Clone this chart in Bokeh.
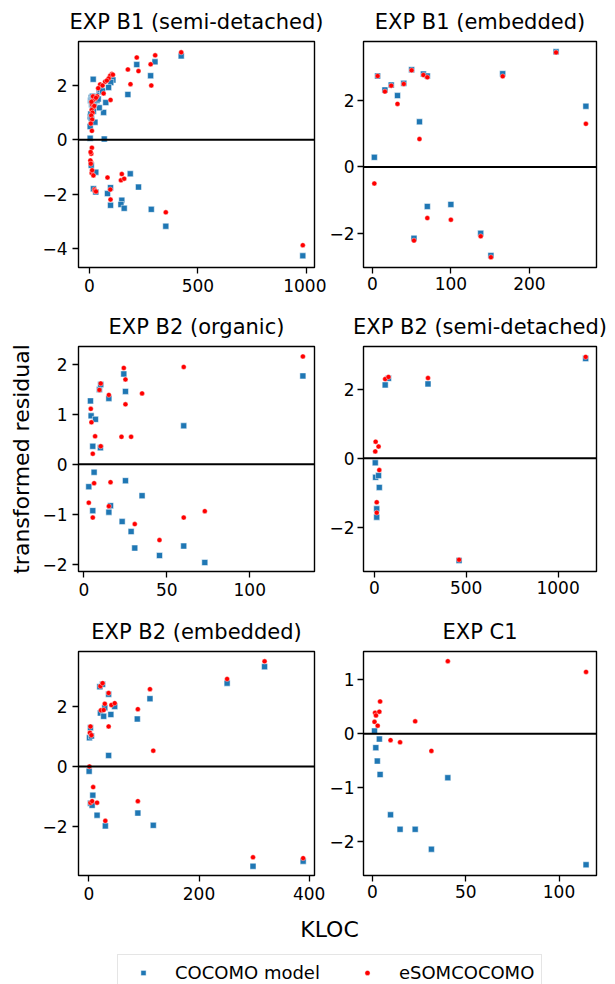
from bokeh.plotting import figure
from bokeh.layouts import column, row
from bokeh.models import Range1d, FixedTicker, Span, Label, Legend, LegendItem
from bokeh.embed import file_html
from bokeh.resources import INLINE

FONT = "DejaVu Sans"
BLUE = "#1f77b4"
RED = "#ff0000"

# ---------------- data ----------------
titles = ["EXP B1 (semi-detached)", "EXP B1 (embedded)", "EXP B2 (organic)",
          "EXP B2 (semi-detached)", "EXP B2 (embedded)", "EXP C1"]

# EXP B1 (semi-detached)
b1s_kloc_cocomo = [423, 302, 218, 282, 177, 17, 108, 98, 88, 45, 75, 65, 45, 11, 3, 3, 3, 68,
                   5, 8, 12, 15, 20, 25, 10, 14, 18, 6, 10, 22, 30, 35, 25, 8, 50, 60, 40,
                   8, 29, 188, 226, 18, 29, 97, 83, 97, 149, 145, 160, 285, 352, 984]
b1s_res_cocomo = [3.09, 2.87, 2.77, 2.36, 1.67, 2.23, 2.20, 2.11, 1.93, 1.77, 1.37, 1.01, 1.18, 1.59,
                  0.85, 0.49, 0.06, 0.03, 1.45, 1.55, 1.50, 1.60, 1.55, 1.45, 1.30, 1.20, 1.05, 0.95,
                  0.75, 1.35, 1.50, 1.45, 0.65, 0.80, 1.85, 1.80, 1.50,
                  -0.94, -1.19, -1.25, -1.74, -1.80, -1.92, -1.76, -1.98, -2.41, -2.22, -2.38,
                  -2.52, -2.56, -3.18, -4.27]
b1s_kloc_esom = [423, 303, 218, 282, 177, 226, 285, 189, 103, 95, 108, 88, 72, 49, 65, 97, 60, 80,
                 40, 35, 20, 25, 15, 12, 18, 10, 14, 8, 12, 6, 11, 16, 30, 22, 9,
                 11, 8, 5, 7, 4, 6, 10, 12, 18, 83, 149, 145, 160, 23, 25, 30, 96, 97, 352, 984]
b1s_res_esom = [3.22, 3.11, 3.03, 2.78, 2.59, 2.53, 2.00, 2.05, 2.42, 2.36, 2.40, 2.26, 2.14, 2.04,
                1.71, 1.47, 2.00, 2.18, 1.90, 1.60, 1.55, 1.50, 1.45, 1.30, 1.20, 1.10, 1.00, 0.90,
                0.75, 0.60, 0.33, 1.60, 1.55, 1.25, 1.40,
                -0.29, -0.51, -0.45, -0.82, -0.76, -0.88, -1.22, -1.12, -1.31, -1.39, -1.26, -1.49,
                -1.43, -1.83, -1.88, -1.90, -1.83, -2.20, -2.67, -3.88]

# EXP B1 (embedded)
b1e_kloc = [2.5, 6.7, 16, 24, 32, 40, 50, 60, 65, 70, 166, 234, 272, 53, 70, 100, 138, 151]
b1e_res_cocomo = [0.29, 2.74, 2.32, 2.47, 2.15, 2.52, 2.93, 1.36, 2.80, 2.74, 2.81, 3.47, 1.83,
                  -2.15, -1.19, -1.13, -2.00, -2.67]
b1e_res_esom = [-0.50, 2.74, 2.27, 2.45, 1.90, 2.50, 2.91, 0.84, 2.77, 2.70, 2.73, 3.45, 1.30,
                -2.22, -1.54, -1.59, -2.09, -2.72]

# EXP B2 (organic)
b2o_kloc_cocomo = [4.0, 4.4, 7.0, 5.4, 10.0, 9.4, 10.2, 15.1, 24.1, 25.1, 60.2, 132, 6.2, 3.0,
                   5.4, 15.1, 16.1, 25.1, 35.1, 23.1, 28.5, 30.7, 45.6, 60.2, 72.9]
b2o_res_cocomo = [1.27, 0.97, 0.90, 0.36, 0.33, 1.50, 1.60, 1.32, 1.81, 1.46, 0.77, 1.77, -0.16,
                  -0.45, -0.93, -0.96, -0.83, -0.33, -0.63, -1.15, -1.35, -1.68, -1.83, -1.64, -1.97]
b2o_kloc_esom = [4.2, 4.6, 6.8, 5.4, 10.2, 9.4, 10.2, 15.1, 24.1, 25.1, 25.1, 35.1, 60.2, 22.7,
                 28.5, 132, 6.2, 3.0, 5.4, 15.1, 16.1, 30.7, 45.6, 60.2, 72.9]
b2o_res_esom = [1.11, 0.84, 0.56, 0.21, 0.36, 1.49, 1.62, 1.39, 1.93, 1.70, 1.20, 1.42, 1.95, 0.55,
                0.55, 2.16, -0.38, -0.77, -1.07, -0.84, -0.36, -1.20, -1.52, -1.07, -0.94]

# EXP B2 (semi-detached)
b2s_kloc = [5, 7, 23, 27, 13, 13, 59, 77, 292, 461, 1150]
b2s_res_cocomo = [-0.13, -0.55, -0.50, -0.84, -1.46, -1.70, 2.12, 2.31, 2.15, -2.95, 2.88]
b2s_res_esom = [0.20, 0.48, 0.34, -0.34, -1.27, -1.57, 2.29, 2.35, 2.32, -2.93, 2.93]

# EXP B2 (embedded)
b2e_kloc_cocomo = [1.2, 3, 4.8, 0.6, 3, 6, 7.3, 15, 30, 20, 25, 21, 27, 29, 36, 40, 47, 36, 88,
                   89, 111, 117, 251, 319, 298, 389]
b2e_res_cocomo = [0.96, 1.30, 1.02, -0.16, -1.23, -1.30, -0.96, -1.63, -1.99, 2.67, 2.75, 1.79,
                  1.68, 1.97, 2.42, 1.74, 2.01, 0.37, 1.59, -1.56, 2.27, -1.97, 2.79, 3.34,
                  -3.34, -3.17]
b2e_kloc_esom = [1.2, 3, 2, 4.8, 3, 6, 7.9, 15, 30, 21, 25, 22, 27, 29, 36, 36, 41, 47, 89, 89,
                 111, 117, 251, 319, 298, 389]
b2e_res_esom = [0.00, 1.34, 1.13, 1.05, -1.21, -1.16, -0.69, -1.21, -1.82, 2.69, 2.79, 1.88,
                1.89, 2.10, 2.46, 1.34, 2.06, 2.12, 1.92, -1.16, 2.59, 0.53, 2.93, 3.52,
                -3.04, -3.07]

# EXP C1
c1_kloc_cocomo = [1.1, 1.8, 2.6, 3.7, 4.1, 9.7, 14.8, 22.9, 31.6, 40.4, 114.5]
c1_res_cocomo = [0.05, -0.26, -0.51, -0.10, -0.76, -1.51, -1.78, -1.78, -2.15, -0.82, -2.44]
c1_kloc_esom = [1.4, 1.9, 1.1, 2.8, 3.7, 4.1, 9.7, 14.8, 22.9, 31.6, 40.4, 114.5]
c1_res_esom = [0.39, 0.34, 0.22, 0.15, 0.41, 0.60, -0.12, -0.16, 0.23, -0.32, 1.35, 1.15]

# axis ticks and ranges
xticks = [[0, 500, 1000], [0, 100, 200], [0, 50, 100], [0, 500, 1000], [0, 200, 400], [0, 50, 100]]
yticks = [[-4, -2, 0, 2], [-2, 0, 2], [-2, -1, 0, 1, 2], [-2, 0, 2], [-2, 0, 2], [-2, -1, 0, 1]]
xranges = [(-50.8, 1038), (-11.3, 285.5), (-3.2, 139), (-59, 1209), (-18.7, 409.6), (-4.8, 120.1)]
yranges = [(-4.70, 3.62), (-3.03, 3.78), (-2.15, 2.36), (-3.27, 3.23), (-3.65, 3.85), (-2.64, 1.53)]

series = [
    (b1s_kloc_cocomo, b1s_res_cocomo, b1s_kloc_esom, b1s_res_esom),
    (b1e_kloc, b1e_res_cocomo, b1e_kloc, b1e_res_esom),
    (b2o_kloc_cocomo, b2o_res_cocomo, b2o_kloc_esom, b2o_res_esom),
    (b2s_kloc, b2s_res_cocomo, b2s_kloc, b2s_res_esom),
    (b2e_kloc_cocomo, b2e_res_cocomo, b2e_kloc_esom, b2e_res_esom),
    (c1_kloc_cocomo, c1_res_cocomo, c1_kloc_esom, c1_res_esom),
]
legend_labels = ["COCOMO model", "eSOMCOCOMO"]


def fmt(t):
    return ("\u2212" + str(abs(t))) if t < 0 else str(t)


# layout: borders around fixed-size frames
FRAME_W = 236
col_b = [(78, 12), (34, 19)]
row_b = [(41, 33, 226), (46, 39, 225), (40, 35, 225)]


def make_panel(i):
    r, c = divmod(i, 2)
    bl, br = col_b[c]
    bt, bb, fh = row_b[r]
    p = figure(width=bl + FRAME_W + br, height=bt + fh + bb,
               x_range=Range1d(*xranges[i]), y_range=Range1d(*yranges[i]),
               output_backend="svg", toolbar_location=None,
               min_border_left=bl, min_border_right=br, min_border_top=bt, min_border_bottom=bb,
               title=titles[i])
    p.title.text_font = FONT
    p.title.text_font_size = "21px"
    p.title.text_font_style = "normal"
    p.title.text_color = "black"
    p.title.align = "center"
    p.title.standoff = 15
    p.outline_line_color = "black"
    p.outline_line_width = 1.4
    p.xgrid.visible = False
    p.ygrid.visible = False
    p.background_fill_color = "white"
    p.border_fill_color = "white"
    for ax, ticks in ((p.xaxis[0], xticks[i]), (p.yaxis[0], yticks[i])):
        ax.ticker = FixedTicker(ticks=ticks)
        ax.major_label_overrides = {t: fmt(t) for t in ticks}
        ax.major_label_text_font = FONT
        ax.major_label_text_font_size = "17px"
        ax.major_label_text_color = "black"
        ax.major_tick_out = 6
        ax.major_tick_in = 0
        ax.minor_tick_out = 0
        ax.minor_tick_in = 0
        ax.major_tick_line_color = "black"
        ax.major_tick_line_width = 1.3
        ax.axis_line_color = None
        ax.major_label_standoff = 5 if c == 0 else 3
    xb, yb, xr_, yr_ = series[i]
    p.scatter(xb, yb, marker="square", size=6, fill_color=BLUE, line_color="white",
              line_width=0.5)
    p.scatter(xr_, yr_, marker="circle", size=5, fill_color=RED, line_color="white",
              line_width=0.4)
    p.add_layout(Span(location=0, dimension="width", line_color="black", line_width=2))
    return p


panels = [make_panel(i) for i in range(6)]

ylab = panels[2].yaxis[0]
ylab.axis_label = "transformed residual"
ylab.axis_label_text_font = FONT
ylab.axis_label_text_font_size = "22px"
ylab.axis_label_text_font_style = "normal"
ylab.axis_label_text_color = "black"
ylab.axis_label_standoff = 5

# bottom strip: x label + legend
STRIP_W, STRIP_H = 615, 74
pl = figure(width=STRIP_W, height=STRIP_H, x_range=Range1d(0, STRIP_W), y_range=Range1d(0, STRIP_H),
            output_backend="svg", toolbar_location=None, min_border=0,
            x_axis_type=None, y_axis_type=None)
pl.outline_line_color = None
pl.xgrid.visible = False
pl.ygrid.visible = False
pl.add_layout(Label(x=329, y=55, text="KLOC", text_align="center", text_baseline="middle",
                    text_font=FONT, text_font_size="22px", text_color="black"))
nan = float("nan")
rb = pl.scatter(x=[nan], y=[nan], marker="square", fill_color=BLUE, line_color="white",
                line_width=0.5)
rr = pl.scatter(x=[nan], y=[nan], marker="circle", fill_color=RED, line_color="white",
                line_width=0.4)
legend = Legend(items=[LegendItem(label=legend_labels[0], renderers=[rb]),
                       LegendItem(label=legend_labels[1], renderers=[rr])],
                orientation="horizontal", location=(117, -7), padding=7, spacing=29,
                glyph_width=36, glyph_height=13, label_standoff=14,
                label_text_font=FONT, label_text_font_size="18px", label_text_color="black",
                border_line_color="#cccccc", border_line_width=1, background_fill_alpha=0.8,
                margin=0)
pl.add_layout(legend)

layout = column(row(panels[0], panels[1]), row(panels[2], panels[3]),
                row(panels[4], panels[5]), pl)

open("out.html", "w").write(file_html(layout, INLINE))
